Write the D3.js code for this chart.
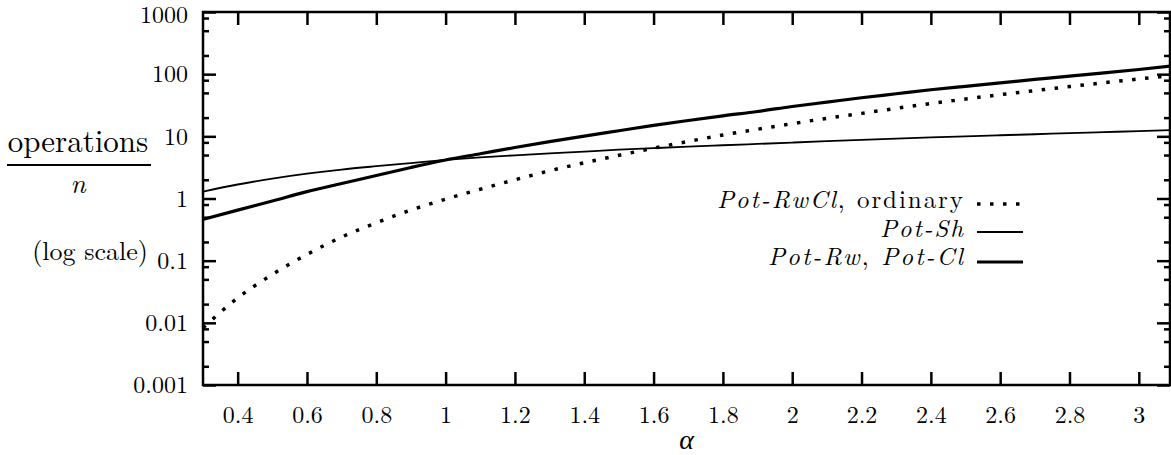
<!DOCTYPE html>
<html>
<head>
<meta charset="utf-8">
<script src="https://cdn.jsdelivr.net/npm/d3@7"></script>
<style>
    body { margin: 0; background: #fff; }
    .axis path { display: none; }
    .axis line { stroke: #000; stroke-width: 2.5; }
</style>
</head>
<body>
<script>
// alpha values the curves were read at
var alphas = [0.3, 0.4, 0.5, 0.6, 0.7, 0.8, 0.9, 1.0, 1.1, 1.2, 1.3, 1.4, 1.5, 1.6, 1.7,
    1.8, 1.9, 2.0, 2.1, 2.2, 2.3, 2.4, 2.5, 2.6, 2.7, 2.8, 2.9, 3.0, 3.1];

// Pot-RwCl, ordinary (dotted)
var rwclOrdinary = [0.0083, 0.0251, 0.060, 0.126, 0.240, 0.407, 0.653, 0.977, 1.41, 2.0,
    2.79, 3.76, 4.95, 6.46, 8.28, 10.5, 13.0, 16.0, 19.5, 23.4, 28.2, 33.7, 39.8, 46.8,
    54.3, 63.1, 72.9, 83.8, 95.5];

// Pot-Sh (thin)
var potSh = [1.29, 1.68, 2.09, 2.51, 2.92, 3.31, 3.72, 4.17, 4.57, 4.95, 5.31, 5.69, 6.10,
    6.46, 6.84, 7.19, 7.55, 7.94, 8.36, 8.77, 9.18, 9.59, 10.0, 10.4, 10.8, 11.3, 11.7,
    12.1, 12.6];

// Pot-Rw, Pot-Cl (thick)
var potRwCl = [0.46, 0.65, 0.91, 1.29, 1.74, 2.34, 3.16, 4.17, 5.25, 6.61, 8.22, 10.1,
    12.3, 15.0, 18.0, 21.4, 25.1, 30.2, 35.5, 41.7, 48.4, 56.2, 63.8, 72.4, 82.2, 93.3,
    105, 119, 136];

var xTicks = [0.4, 0.6, 0.8, 1, 1.2, 1.4, 1.6, 1.8, 2, 2.2, 2.4, 2.6, 2.8, 3];
var yTicks = [0.001, 0.01, 0.1, 1, 10, 100, 1000];
var yTickLabels = ["0.001", "0.01", "0.1", "1", "10", "100", "1000"];
var yMinorTicks = [];
yTicks.slice(0, -1).forEach(function (d) {
    [2, 5, 8].forEach(function (m) { yMinorTicks.push(+(d * m).toPrecision(3)); });
});

// TeX look-alike
var texFont = "'Latin Modern Roman'";
var width = 1171, height = 455;
var margin = { top: 12, right: 1, bottom: 70, left: 203 };

var svg = d3.select("body").append("svg")
    .attr("width", width)
    .attr("height", height);

var x = d3.scaleLinear().domain([0.3, 3.09]).range([margin.left, width - margin.right]);
var y = d3.scaleLog().domain([0.001, 1000]).range([height - margin.bottom, margin.top]);

var x0 = x.range()[0], x1 = x.range()[1], y0 = y.range()[0], y1 = y.range()[1];

function tex(sel, size) {
    return sel.style("font-family", texFont).style("font-size", size + "px").style("fill", "#000");
}

svg.append("clipPath").attr("id", "plot")
    .append("rect")
    .attr("x", x0).attr("y", y1)
    .attr("width", x1 - x0).attr("height", y0 - y1);

// ticks, all drawn inward
svg.append("g").attr("class", "axis")
    .attr("transform", "translate(0," + y0 + ")")
    .call(d3.axisBottom(x).tickValues(xTicks).tickSize(-13).tickPadding(21)
        .tickFormat(function (d) { return d3.format("")(d); }))
    .selectAll("text").call(tex, 24);

svg.append("g").attr("class", "axis")
    .attr("transform", "translate(0," + y1 + ")")
    .call(d3.axisTop(x).tickValues(xTicks).tickSize(-13).tickFormat(""));

svg.append("g").attr("class", "axis")
    .attr("transform", "translate(" + x0 + ",0)")
    .call(d3.axisLeft(y).tickValues(yTicks).tickSize(-13).tickPadding(15)
        .tickFormat(function (d, i) { return yTickLabels[i]; }))
    .selectAll("text").call(tex, 24)
    .attr("dy", function (d) { return d === 1000 ? "0.42em" : "0.32em"; });

svg.append("g").attr("class", "axis")
    .attr("transform", "translate(" + x0 + ",0)")
    .call(d3.axisLeft(y).tickValues(yMinorTicks).tickSize(-6).tickFormat(""));

svg.append("g").attr("class", "axis")
    .attr("transform", "translate(" + x1 + ",0)")
    .call(d3.axisRight(y).tickValues(yTicks).tickSize(-13).tickFormat(""));

svg.append("g").attr("class", "axis")
    .attr("transform", "translate(" + x1 + ",0)")
    .call(d3.axisRight(y).tickValues(yMinorTicks).tickSize(-6).tickFormat(""));

// border
svg.append("rect")
    .attr("x", x0).attr("y", y1)
    .attr("width", x1 - x0).attr("height", y0 - y1)
    .attr("fill", "none")
    .attr("stroke", "#000")
    .attr("stroke-width", 2.5);

// curves
var series = [
    { values: rwclOrdinary, width: 3.5, dash: "3.5 9.5" },
    { values: potSh, width: 1.8, dash: null },
    { values: potRwCl, width: 3.2, dash: null }
];

var line = d3.line()
    .x(function (d) { return x(d[0]); })
    .y(function (d) { return y(d[1]); })
    .curve(d3.curveMonotoneX);

var curves = svg.append("g").attr("clip-path", "url(#plot)");
series.forEach(function (s) {
    curves.append("path")
        .datum(alphas.map(function (a, i) { return [a, s.values[i]]; }))
        .attr("d", line)
        .attr("fill", "none")
        .attr("stroke", "#000")
        .attr("stroke-width", s.width)
        .attr("stroke-dasharray", s.dash);
});

// legend
var legend = [
    { parts: [["Pot-RwCl", true], [", ordinary", false]], len: 246, base: 208, ly: 204 },
    { parts: [["Pot-Sh", true]], len: 83, base: 237, ly: 232 },
    { parts: [["Pot-Rw", true], [", ", false], ["Pot-Cl", true]], len: 195, base: 265, ly: 262 }
];

legend.forEach(function (l, i) {
    var t = svg.append("text")
        .attr("x", 963)
        .attr("y", l.base)
        .attr("text-anchor", "end")
        .attr("textLength", l.len)
        .attr("lengthAdjust", "spacing")
        .call(tex, 25);
    l.parts.forEach(function (p) {
        t.append("tspan")
            .style("font-style", p[1] ? "italic" : "normal")
            .text(p[0]);
    });
    svg.append("line")
        .attr("x1", 977).attr("x2", 1023)
        .attr("y1", l.ly).attr("y2", l.ly)
        .attr("stroke", "#000")
        .attr("stroke-width", series[i].width)
        .attr("stroke-dasharray", series[i].dash);
});

// axis titles
svg.append("text")
    .attr("x", (x0 + x1) / 2)
    .attr("y", 449)
    .attr("text-anchor", "middle")
    .style("font-family", "'Liberation Serif'")
    .style("font-size", "28px")
    .style("font-style", "italic")
    .text("α");

svg.append("text")
    .attr("x", 78).attr("y", 152)
    .attr("text-anchor", "middle")
    .call(tex, 31)
    .text("operations");

svg.append("line")
    .attr("x1", 7).attr("x2", 151)
    .attr("y1", 165).attr("y2", 165)
    .attr("stroke", "#000")
    .attr("stroke-width", 2);

svg.append("text")
    .attr("x", 78).attr("y", 193)
    .attr("text-anchor", "middle")
    .call(tex, 27)
    .style("font-style", "italic")
    .text("n");

svg.append("text")
    .attr("x", 90).attr("y", 260)
    .attr("text-anchor", "middle")
    .call(tex, 26)
    .text("(log scale)");
</script>
</body>
</html>
